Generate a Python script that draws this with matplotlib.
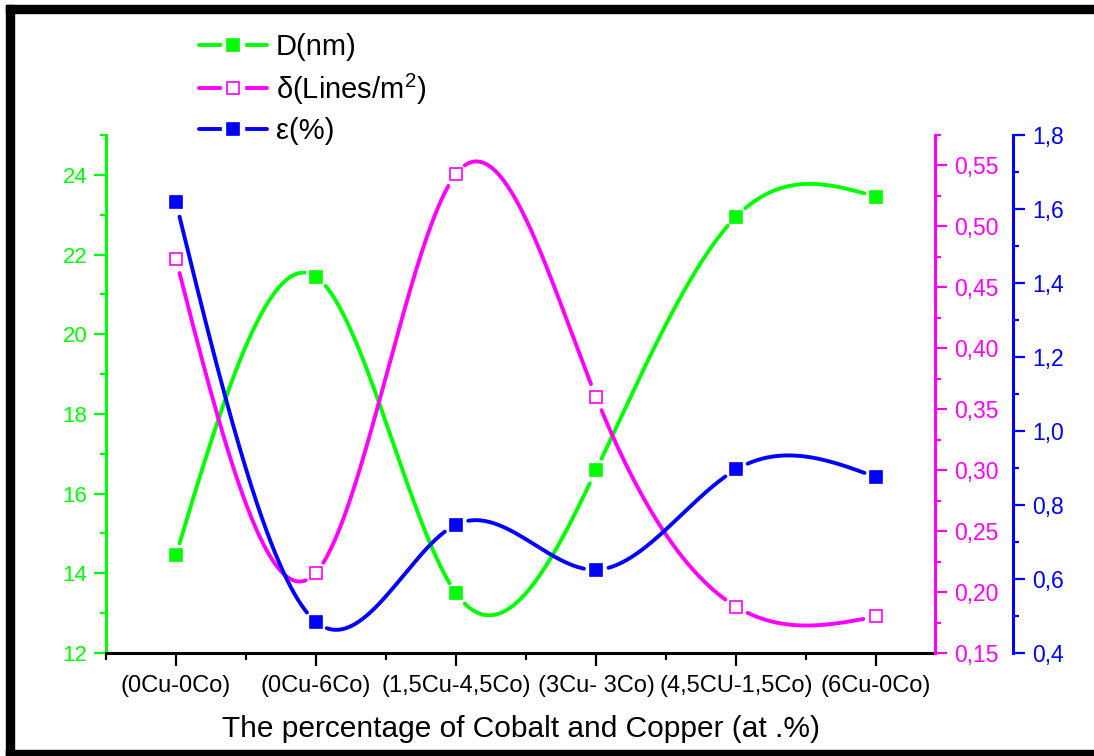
import numpy as np
import matplotlib
matplotlib.use("Agg")
import matplotlib.pyplot as plt
from matplotlib import font_manager
from matplotlib.lines import Line2D
from matplotlib.patches import Rectangle
from matplotlib.ticker import FuncFormatter, MultipleLocator
from matplotlib.legend_handler import HandlerTuple

# ---- data -------------------------------------------------------------
categories = ["(0Cu-0Co)", "(0Cu-6Co)", "(1,5Cu-4,5Co)", "(3Cu- 3Co)",
              "(4,5CU-1,5Co)", "(6Cu-0Co)"]
crystallite_size = [14.46, 21.44, 13.50, 16.59, 22.95, 23.45]          # D (nm)
dislocation_density = [0.473, 0.216, 0.543, 0.360, 0.188, 0.180]       # delta (Lines/m^2)
microstrain = [1.618, 0.484, 0.747, 0.625, 0.896, 0.875]               # epsilon (%)
series_labels = ["D(nm)", r"δ(Lines/m$^{2}$)", "ε(%)"]
x_title = "The percentage of Cobalt and Copper (at .%)"

GREEN, MAGENTA, BLUE = "#00ff00", "#ff00ff", "#0000ff"


def available(name):
    try:
        font_manager.findfont(font_manager.FontProperties(family=name),
                              fallback_to_default=False)
        return True
    except Exception:
        return False


SANS = "Liberation Sans"
NARROW = "Liberation Sans Narrow" if available("Liberation Sans Narrow") else SANS

plt.rcParams["font.family"] = [SANS, "DejaVu Sans"]
plt.rcParams["mathtext.fontset"] = "custom"
plt.rcParams["mathtext.rm"] = SANS
plt.rcParams["mathtext.it"] = SANS + ":italic"
plt.rcParams["mathtext.bf"] = SANS + ":bold"


def natural_spline(x, y, num=600):
    x = np.asarray(x, float)
    y = np.asarray(y, float)
    n = len(x)
    h = np.diff(x)
    A = np.zeros((n, n))
    r = np.zeros(n)
    A[0, 0] = A[-1, -1] = 1.0
    for i in range(1, n - 1):
        A[i, i - 1] = h[i - 1]
        A[i, i] = 2 * (h[i - 1] + h[i])
        A[i, i + 1] = h[i]
        r[i] = 6 * ((y[i + 1] - y[i]) / h[i] - (y[i] - y[i - 1]) / h[i - 1])
    M = np.linalg.solve(A, r)
    t = np.linspace(x[0], x[-1], num)
    idx = np.clip(np.searchsorted(x, t) - 1, 0, n - 2)
    x0, x1 = x[idx], x[idx + 1]
    hh = x1 - x0
    s = (M[idx] * (x1 - t) ** 3 / (6 * hh) + M[idx + 1] * (t - x0) ** 3 / (6 * hh)
         + (y[idx] / hh - M[idx] * hh / 6) * (x1 - t)
         + (y[idx + 1] / hh - M[idx + 1] * hh / 6) * (t - x0))
    return t, s


def with_gaps(ax, xs, ys, xd, yd, radius):
    """Blank the curve within `radius` pixels of each symbol."""
    pts = ax.transData.transform(np.column_stack([xs, ys]))
    marks = ax.transData.transform(np.column_stack([xd, yd]))
    d = np.hypot(pts[:, None, 0] - marks[None, :, 0],
                 pts[:, None, 1] - marks[None, :, 1]).min(axis=1)
    return np.where(d < radius, np.nan, ys)


W, H = 1094, 756
fig = plt.figure(figsize=(W / 100, H / 100), dpi=100)
fig.patch.set_facecolor("white")

x0p, x1p, y0p, y1p = 106, 935, 135, 653
ax = fig.add_axes([x0p / W, (H - y1p) / H, (x1p - x0p) / W, (y1p - y0p) / H])
ax2 = ax.twinx()
ax3 = ax.twinx()
ax3.spines["right"].set_position(("axes", (1013 - x0p) / (x1p - x0p)))

x = np.arange(len(categories))
ax.set_xlim(-0.5, 5.42)
ax.set_ylim(12, 25)
ax2.set_ylim(0.15, 0.575)
ax3.set_ylim(0.4, 1.8)

for a in (ax, ax2, ax3):
    a.patch.set_visible(False)
    for s in a.spines.values():
        s.set_visible(False)

ax.spines["left"].set_visible(True)
ax.spines["left"].set_color(GREEN)
ax.spines["left"].set_linewidth(2.2)
ax.spines["bottom"].set_visible(True)
ax.spines["bottom"].set_color("black")
ax.spines["bottom"].set_linewidth(2.2)
ax2.spines["right"].set_visible(True)
ax2.spines["right"].set_color(MAGENTA)
ax2.spines["right"].set_linewidth(2.2)
ax3.spines["right"].set_visible(True)
ax3.spines["right"].set_color(BLUE)
ax3.spines["right"].set_linewidth(2.2)

# x axis
ax.set_xticks(x)
ax.set_xticklabels(categories, family=[NARROW, SANS], fontsize=17)
ax.xaxis.set_minor_locator(MultipleLocator(0.5))
ax.tick_params(axis="x", which="major", direction="out", length=9, width=1.6,
               color="black", pad=7)
ax.tick_params(axis="x", which="minor", direction="out", length=5, width=1.6,
               color="black")
ax.set_xlabel(x_title, family=[NARROW, SANS], fontsize=21.5, labelpad=13)

# left (green) axis
ax.yaxis.set_major_locator(MultipleLocator(2))
ax.yaxis.set_minor_locator(MultipleLocator(1))
ax.tick_params(axis="y", which="major", direction="out", length=8.5, width=1.6,
               color=GREEN, labelcolor=GREEN, labelsize=16, pad=5)
ax.tick_params(axis="y", which="minor", direction="out", length=4.5, width=1.6,
               color=GREEN)

# magenta axis
ax2.yaxis.set_major_locator(MultipleLocator(0.05))
ax2.yaxis.set_minor_locator(MultipleLocator(0.025))
ax2.yaxis.set_major_formatter(FuncFormatter(lambda v, p: f"{v:.2f}".replace(".", ",")))
ax2.tick_params(axis="y", which="major", direction="out", length=8.5, width=1.6,
                color=MAGENTA, labelcolor=MAGENTA, labelsize=16.5, pad=5)
ax2.tick_params(axis="y", which="minor", direction="out", length=4.5, width=1.6,
                color=MAGENTA)

# blue axis
ax3.yaxis.set_major_locator(MultipleLocator(0.2))
ax3.yaxis.set_minor_locator(MultipleLocator(0.1))
ax3.yaxis.set_major_formatter(FuncFormatter(lambda v, p: f"{v:.1f}".replace(".", ",")))
ax3.tick_params(axis="y", which="major", direction="out", length=8.5, width=1.6,
                color=BLUE, labelcolor=BLUE, labelsize=16.5, pad=5)
ax3.tick_params(axis="y", which="minor", direction="out", length=4.5, width=1.6,
                color=BLUE)

# ---- curves ---------------------------------------------------------
GAP = 12
MS = 8.3
series = [
    (ax, crystallite_size, GREEN, GREEN),
    (ax2, dislocation_density, MAGENTA, "white"),
    (ax3, microstrain, BLUE, BLUE),
]
for a, vals, col, face in series:
    t, s = natural_spline(x, vals)
    s = with_gaps(a, t, s, x, vals, GAP)
    a.plot(t, s, color=col, lw=2.8, solid_capstyle="round", zorder=2)
    a.plot(x, vals, ls="none", marker="s", ms=MS, mfc=face, mec=col,
           mew=1.2, zorder=3)

# ---- legend ---------------------------------------------------------
handles = []
for a, vals, col, face in series:
    ln = Line2D([], [], color=col, lw=2.8, solid_capstyle="round")
    halo = Line2D([], [], ls="none", marker="s", ms=16, mfc="white", mec="white")
    mk = Line2D([], [], ls="none", marker="s", ms=MS, mfc=face, mec=col, mew=1.2)
    handles.append((ln, halo, mk))
leg = fig.legend(handles, series_labels, loc="upper left",
                 bbox_to_anchor=(199 / W, 1 - 33 / H), frameon=False,
                 fontsize=21, handlelength=2.33, handletextpad=0.3,
                 labelspacing=0.36, borderaxespad=0, borderpad=0,
                 handler_map={tuple: HandlerTuple(ndivide=1, pad=0)})

# ---- outer frame ----------------------------------------------------
frame = fig.add_axes([0, 0, 1, 1], zorder=-1)
frame.set_xlim(0, W)
frame.set_ylim(H, 0)
frame.axis("off")
frame.add_patch(Rectangle((6, 5), W - 6, 8, color="black"))
frame.add_patch(Rectangle((6, 5), 7.5, H - 5, color="black"))
frame.add_patch(Rectangle((6, 750), W - 6, 6, color="black"))

fig.savefig("out.png", dpi=100)
